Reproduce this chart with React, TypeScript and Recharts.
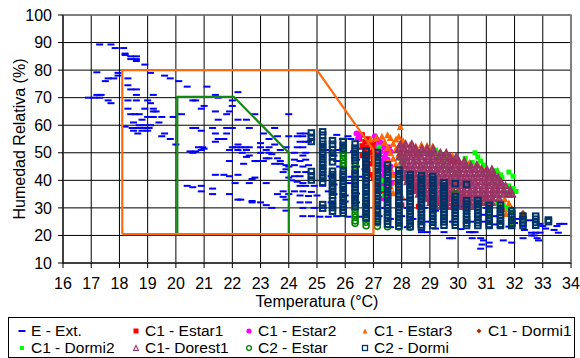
import React from 'react';
import { ScatterChart, Scatter, XAxis, YAxis, CartesianGrid, ReferenceArea, Label } from 'recharts';

const FONT = '"Liberation Sans", Arial, Helvetica, sans-serif';

const tempTicks = [16, 17, 18, 19, 20, 21, 22, 23, 24, 25, 26, 27, 28, 29, 30, 31, 32, 33, 34];
const rhTicks = [10, 20, 30, 40, 50, 60, 70, 80, 90, 100];

// comfort zone outlines [temp, rh]
const zoneWide = [[18.1, 20.5], [18.1, 80], [25, 80], [27, 51], [27, 20.5], [18.1, 20.5]];
const zoneStrict = [[20.05, 20.5], [20.05, 70.3], [22.05, 70.3], [24, 50], [24, 20.5]];

// E - Ext. (outdoor) [temp, rh]
const extPts = [
  [16.9, 70], [17.1, 70], [17.2, 71], [17.35, 71], [17.3, 70], [17.6, 69], [17.7, 68], [17.3, 89.3], [17.7, 89.3],
  [17.85, 88], [18.15, 88], [18.2, 86], [18.2, 85.5], [18.4, 85], [18.6, 85], [18.4, 84], [18.6, 84], [18.6, 83.3],
  [18.9, 82], [17.2, 79.2], [17.95, 79], [17.95, 78], [17.6, 77], [17.8, 77], [17.5, 76], [18.3, 77], [19.1, 79],
  [19.6, 78], [19.8, 77], [20.1, 76], [18.3, 74.5], [18.6, 73], [18.4, 73], [18.3, 69], [18.6, 69], [18.6, 71],
  [19.2, 71], [19.0, 69], [19.1, 68], [18.3, 66], [18.4, 64], [18.55, 64], [18.7, 64], [18.9, 66], [19.2, 66],
  [19.2, 65], [19.3, 65], [19.0, 63], [19.2, 63], [18.8, 62], [18.5, 61], [18.7, 60], [18.9, 60], [19.1, 60],
  [18.2, 59.5], [18.45, 59], [18.65, 59], [18.85, 59], [19.05, 59], [18.5, 58], [18.8, 58], [19.0, 58], [18.65, 57],
  [19.6, 57], [19.5, 56], [19.8, 55], [20.0, 53], [19.5, 63], [19.9, 63], [19.4, 61], [20.2, 64],
  [20.4, 74], [21.1, 74], [20.6, 69], [20.7, 69], [21.0, 67], [20.9, 66], [21.4, 71], [21.5, 70], [21.4, 65],
  [21.5, 62], [21.9, 65], [21.8, 64], [22.0, 67], [22.0, 69], [22.2, 72], [22.2, 62], [22.6, 59], [22.8, 64],
  [22.5, 62], [23.1, 57], [23.5, 59], [24.0, 64], [24.0, 56], [20.6, 59], [20.7, 59], [20.9, 58], [20.8, 52],
  [20.7, 50.5], [20.95, 52], [21.0, 51.5], [20.5, 50.5], [20.6, 50], [20.9, 51], [21.3, 59], [21.8, 59], [22.0, 59],
  [21.4, 57], [21.8, 57], [21.7, 55], [21.4, 54], [21.5, 55], [22.0, 52], [22.15, 52], [22.3, 52], [22.45, 52],
  [22.6, 52], [21.9, 51], [22.2, 51], [22.5, 51], [22.35, 50], [22.2, 53], [23.0, 52], [23.2, 51], [23.3, 52],
  [23.0, 50], [23.3, 50], [22.6, 49], [22.5, 48.5], [22.8, 47], [22.9, 47], [23.2, 48], [23.3, 48], [23.1, 47],
  [23.6, 48], [23.7, 47], [23.9, 45.5], [24.0, 45], [23.5, 46], [23.7, 46], [22.4, 46], [21.9, 47], [23.9, 52],
  [23.7, 51], [23.5, 53], [23.3, 55], [23.6, 56], [23.0, 53.5], [23.4, 49.5],
  [20.4, 38], [20.6, 37.5], [20.9, 38], [20.9, 36], [21.3, 37], [21.3, 35], [21.4, 42], [21.7, 42], [21.9, 41.5],
  [22.2, 42], [22.1, 39], [22.7, 40.5], [22.8, 41], [22.6, 39], [23.2, 39], [21.9, 35], [22.2, 33], [22.3, 33],
  [22.7, 32.5], [22.7, 32], [23.0, 32], [23.2, 31], [23.4, 30], [23.6, 35], [23.8, 36], [24.0, 35], [23.8, 34],
  [23.9, 33], [23.9, 29], [24.0, 41], [23.8, 43], [23.9, 44],
  [24.4, 57], [24.6, 57], [24.3, 56], [24.5, 56], [24.4, 54], [24.6, 54], [24.7, 54], [24.3, 52], [24.5, 52],
  [24.2, 50], [24.5, 49], [24.6, 50], [24.2, 47.5], [24.4, 47], [24.6, 47.5], [25.2, 52], [25.4, 51], [25.2, 48.5],
  [25.6, 49], [24.2, 45.5], [24.5, 45], [24.7, 45.5], [24.3, 43], [24.6, 43], [24.8, 42.5], [24.2, 41.5],
  [24.4, 41.5], [24.1, 40], [24.3, 39.5], [24.5, 39], [24.4, 38], [24.6, 38], [24.9, 38], [25.2, 38], [24.2, 36],
  [24.5, 36], [24.8, 35.8], [25.4, 36], [24.4, 34.5], [24.7, 34.3], [25.0, 34.5], [24.4, 32], [24.7, 32], [24.5, 30],
  [24.9, 30], [25.2, 30], [24.5, 27], [24.8, 27], [25.1, 26.8], [25.4, 26.8], [25.7, 27], [26.1, 26.8], [26.5, 26.8],
  [25.5, 32], [26.0, 32.3], [26.4, 32], [25.6, 35], [26.0, 34.5], [26.4, 35.2], [25.6, 38.5], [26.1, 39], [25.5, 41.5],
  [26.2, 41.3], [26.6, 41.3], [25.8, 45], [26.4, 45], [26.7, 44], [25.7, 47], [26.4, 47.5], [25.8, 51], [26.3, 50.5],
  [26.6, 51.5], [25.9, 55], [26.2, 55], [25.7, 56.5], [26.1, 56],
  [27.2, 27], [27.6, 26], [28.0, 27], [28.4, 26], [27.4, 30], [28.2, 30], [28.8, 30], [29.2, 29], [27.3, 33],
  [28.1, 33], [28.7, 32], [29.3, 31.5], [30.2, 30.5], [31.0, 30], [28.7, 21.2], [28.9, 21.2], [28.7, 22], [29.5, 21.2],
  [29.7, 19], [29.8, 19], [30.4, 21.2], [30.5, 21.2], [30.6, 21.2], [30.5, 19], [30.8, 19], [30.9, 18.2], [30.85, 16.7],
  [30.8, 15.2], [31.1, 17.4], [31.1, 16], [31.6, 18.2], [31.9, 17.4], [32.3, 19], [32.6, 20], [32.8, 19], [32.85, 18.2],
  [32.7, 20], [32.6, 21], [32.75, 21], [32.9, 21], [32.9, 24.2], [33.0, 23.4], [33.5, 23.4], [33.6, 24.2], [33.75, 24.2],
  [32.3, 23.4], [32.35, 22], [33.4, 22], [33.55, 21], [28.7, 25], [28.9, 25], [29.8, 25], [30.3, 25], [30.5, 25],
  [30.9, 25], [31.5, 25], [31.3, 24], [32.0, 24.5], [31.8, 23.2], [29.2, 22.5], [30.1, 22.3], [27.6, 23], [28.2, 23],
  [30.9, 27.5], [31.3, 27], [32.1, 26], [32.5, 25.5], [33.1, 22.5],
];

// C1 - Estar1
const estar1Pts = [
  [26.5, 56], [26.6, 56.5], [26.8, 55], [26.5, 55], [26.7, 54], [26.9, 53.5], [27.0, 53], [26.6, 52.5], [26.8, 52],
  [27.0, 51.5], [26.7, 51], [26.9, 50], [27.1, 50], [26.6, 49], [26.8, 48.5], [27.0, 48], [26.7, 47], [26.9, 46],
  [26.7, 45], [26.8, 43.5], [26.9, 42], [27.0, 41], [27.2, 38], [27.3, 36], [28.2, 40], [28.3, 38], [28.4, 36],
  [28.5, 37.5], [29.8, 47], [29.9, 46.5], [29.0, 32.7], [29.3, 32.5], [27.5, 34], [28.0, 31], [28.6, 30.5],
  [30.2, 34], [30.6, 31],
];

// C1 - Estar2
const estar2Pts = [
  [26.4, 57], [26.5, 56.5], [26.45, 55], [27.05, 56], [27.1, 55], [27.2, 54], [27.3, 53.5], [27.15, 52.5],
  [27.35, 52], [27.25, 50.5], [27.45, 50], [27.2, 49], [27.4, 48.5], [27.5, 47.5], [27.3, 47], [27.35, 45.5],
  [27.25, 44], [27.4, 43], [27.3, 41.5], [27.45, 40], [27.3, 38.5], [27.4, 37], [27.5, 35], [27.35, 33.5],
  [27.6, 45], [27.7, 42], [27.65, 39], [27.55, 52], [27.6, 50.5], [30.1, 33.5], [30.1, 32.5],
];

// C1 - Estar3
const estar3Pts = [
  [27.95, 59.5], [27.3, 56], [27.5, 56.5], [27.6, 55.5], [27.8, 55], [27.9, 56], [28.05, 54.5], [27.4, 54],
  [27.7, 53.5], [27.95, 53], [28.1, 52.5], [27.5, 52], [27.8, 51.5], [28.0, 51], [27.6, 50], [27.9, 49.5],
  [28.15, 49], [27.7, 48], [28.0, 47.5], [27.5, 47], [27.8, 46], [28.1, 45.5], [27.6, 44.5], [27.9, 43.5],
  [27.7, 42], [28.0, 41], [27.8, 39.5], [27.6, 38], [27.9, 37], [27.7, 35.5], [28.0, 34.5], [26.9, 55], [27.1, 55.5],
  [28.3, 53], [28.5, 52.5], [28.7, 53], [28.9, 52.7], [29.1, 52.5], [28.4, 51], [29.6, 49.7], [29.8, 49],
  [30.05, 46.7], [30.4, 46.5], [30.35, 46], [30.7, 46], [31.1, 41.5], [31.2, 42.5], [31.4, 43.6], [29.7, 40],
  [31.65, 33.3], [31.8, 31.8], [31.7, 28], [31.65, 29.8], [31.9, 29.8], [29.3, 48], [28.6, 49.5], [30.9, 44],
];

// C1 - Dormi1
const dormi1Pts = [[31.1, 31.2], [31.5, 31.2], [31.9, 29.4], [32.3, 28], [31.5, 30], [31.9, 28.2], [32.3, 26.8]];

// C1 - Dormi2
const dormi2Pts = [
  [29.2, 51], [29.35, 50], [29.5, 49], [29.3, 48.5], [29.6, 47.5], [29.5, 45], [29.7, 44], [29.9, 43], [30.0, 42.5],
  [30.6, 50], [30.7, 48.5], [30.8, 47], [30.9, 45.5], [30.25, 48], [30.5, 46.5], [30.4, 45], [30.9, 42.5], [31.1, 41.5],
  [31.2, 40], [31.3, 38.5], [31.4, 37.5], [31.35, 43.5], [31.5, 42], [31.55, 41], [31.8, 43], [31.95, 41.5], [31.8, 38],
  [31.95, 37], [32.05, 36], [31.75, 35.5], [31.6, 31], [31.75, 30], [31.85, 29], [31.9, 28.4], [31.0, 34], [31.2, 33],
  [31.4, 32], [31.0, 32.5], [27.95, 48], [28.05, 46.5], [28.0, 45], [27.2, 52], [27.35, 40], [27.35, 37], [27.4, 34.5],
  [28.8, 36], [29.0, 38],
];

// C1- Dorest1, one row per humidity reading
const dorest1Rows = [
  { rh: 53.2, t: [27.95, 28.14, 28.36] },
  { rh: 51.6, t: [27.9, 28.08, 28.31, 28.5, 28.72, 28.9, 29.12] },
  { rh: 50.1, t: [27.96, 28.17, 28.38, 28.56, 28.77, 28.98, 29.16, 29.37, 29.58] },
  { rh: 48.6, t: [27.92, 28.12, 28.33, 28.52, 28.7, 28.93, 29.11, 29.32, 29.5, 29.72, 29.93] },
  { rh: 47.1, t: [28.02, 28.21, 28.42, 28.61, 28.83, 29.02, 29.21, 29.43, 29.62, 29.81, 30.03, 30.22] },
  { rh: 45.6, t: [28.05, 28.26, 28.45, 28.66, 28.85, 29.06, 29.27, 29.46, 29.67, 29.86, 30.07, 30.26, 30.45, 30.66] },
  { rh: 44.1, t: [28.01, 28.22, 28.41, 28.62, 28.81, 29.02, 29.23, 29.42, 29.63, 29.82, 30.03, 30.22, 30.43, 30.62, 30.83, 31.02, 31.2] },
  { rh: 42.6, t: [28.06, 28.27, 28.46, 28.67, 28.86, 29.07, 29.26, 29.47, 29.66, 29.87, 30.06, 30.27, 30.46, 30.67, 30.86, 31.07, 31.26] },
  { rh: 41.1, t: [28.12, 28.31, 28.52, 28.71, 28.92, 29.11, 29.32, 29.51, 29.72, 29.91, 30.12, 30.31, 30.52, 30.71, 30.92, 31.11, 31.3, 31.42] },
  { rh: 39.6, t: [28.2, 28.41, 28.6, 28.81, 29.0, 29.21, 29.4, 29.61, 29.8, 30.01, 30.2, 30.41, 30.6, 30.81, 31.0, 31.21, 31.4, 31.52] },
  { rh: 38.1, t: [28.3, 28.51, 28.7, 28.91, 29.1, 29.31, 29.5, 29.71, 29.9, 30.11, 30.3, 30.51, 30.7, 30.91, 31.1, 31.31, 31.5, 31.68] },
  { rh: 36.6, t: [28.42, 28.61, 28.82, 29.01, 29.22, 29.41, 29.62, 29.81, 30.02, 30.21, 30.42, 30.61, 30.82, 31.01, 31.22, 31.41, 31.62, 31.85] },
  { rh: 35.1, t: [28.6, 28.81, 29.0, 29.21, 29.4, 29.61, 29.8, 30.01, 30.2, 30.41, 30.6, 30.81, 31.0, 31.21, 31.4, 31.61, 31.8, 31.92] },
  { rh: 33.6, t: [28.82, 29.01, 29.22, 29.41, 29.62, 29.81, 30.02, 30.21, 30.42, 30.61, 30.82, 31.01, 31.22, 31.45] },
  { rh: 32.1, t: [29.02, 29.21, 29.42, 29.61, 29.82, 30.01, 30.22, 30.41, 30.62, 30.81, 31.02, 31.2] },
  { rh: 30.6, t: [29.2, 29.41, 29.6, 29.81, 30.0, 30.22, 30.45] },
];

// C2 - Estar, one column per temperature reading
const c2EstarCols = [
  { t: 25.93, rh: [51.3, 50, 48.8, 47.5, 46.2, 45] },
  { t: 26.35, rh: [46.4, 45.1, 29.2, 27.9, 26.6, 25.3, 24.4] },
  { t: 26.74, rh: [31.2, 29.6, 26.1, 24.8, 23.5] },
  { t: 27.14, rh: [24.6, 23.3] },
  { t: 27.5, rh: [39.4, 37.6, 23.2] },
  { t: 27.9, rh: [23.1] },
  { t: 28.3, rh: [23.0] },
  { t: 29.5, rh: [30.5] },
  { t: 29.9, rh: [35.1] },
  { t: 31.1, rh: [28] },
  { t: 31.9, rh: [25.2, 24.1] },
];

// C2 - Dormi
const c2DormiCols = [
  { t: 24.8, rh: [57.2, 55.6, 54.1, 43.2, 41.6, 40.1] },
  { t: 25.2, rh: [57.6, 56.4, 54.2, 53.1, 51.8, 50.3, 49.2, 47.9, 46.6, 45.5, 44.2, 43.1, 41.8, 40.7, 39.3, 31.2, 29.9] },
  { t: 25.55, rh: [54.4, 53.1, 51.2, 49.9, 48.5, 46.7, 43.3, 42.1, 40.8, 39.6, 38.1, 37, 35.7, 34.5, 32.6, 31.4, 30.1, 28.8] },
  { t: 25.93, rh: [54.1, 52.7, 51.5, 43.5, 42.2, 41.1, 39.8, 38.6, 37.5, 36.2, 35.1, 33.9, 32.7, 31.5, 30.3, 29.1, 28.1] },
  { t: 26.35, rh: [53.2, 51.7, 50.5, 49.3, 48.1, 47.2, 43.9, 42.5, 41.4, 40.1, 38.9, 37.7, 36.5, 35.3, 34.2, 32.9, 31.8, 30.5] },
  { t: 26.74, rh: [50.6, 49.2, 48, 46.8, 45.7, 44.4, 43.2, 42, 40.9, 39.6, 38.5, 37.2, 36.1, 34.8, 33.7, 32.4, 31.3, 30, 28.8, 27.6, 26.4] },
  { t: 27.14, rh: [50.1, 48.7, 47.5, 46.4, 45.1, 44, 42.7, 41.5, 40.3, 39.2, 37.9, 36.8, 35.5, 34.4, 33.1, 32, 30.8, 29.5, 28.4, 27.1, 26, 25.1] },
  { t: 27.5, rh: [45.6, 44.3, 43.1, 41.9, 40.8, 39.5, 38.3, 37.2, 35.9, 34.7, 33.6, 32.3, 31.1, 30, 28.7, 27.5, 26.4, 25.2, 24.1] },
  { t: 27.9, rh: [43.7, 42.4, 41.2, 40.1, 38.8, 37.6, 36.5, 35.2, 34.1, 32.8, 31.7, 30.4, 29.3, 28.1, 26.9, 25.7, 24.5, 23.4] },
  { t: 28.3, rh: [42.1, 40.9, 39.7, 38.5, 37.3, 36.2, 34.9, 33.8, 32.5, 31.4, 30.2, 29, 27.8, 26.6, 25.5, 24.3, 23.2] },
  { t: 28.7, rh: [41.6, 40.4, 39.1, 38, 36.8, 35.6, 34.4, 33.3, 32, 30.9, 29.7, 28.5, 27.3, 26.1, 25, 23.8, 23.1] },
  { t: 29.1, rh: [41.4, 40.2, 39, 37.8, 36.7, 35.4, 34.3, 33, 31.9, 30.7, 29.5, 28.3, 27.2, 25.9, 24.8, 23.6] },
  { t: 29.5, rh: [39.1, 37.9, 36.6, 35.5, 34.3, 33.1, 32, 30.8, 29.6, 28.4, 27.3, 26.1, 24.9, 23.7] },
  { t: 29.9, rh: [38.8, 34.1, 32.9, 31.7, 30.6, 29.4, 28.2, 27.1, 25.9, 24.8, 23.7] },
  { t: 30.3, rh: [38.5, 32.6, 31.4, 30.2, 29.1, 27.9, 26.8, 25.6, 24.5, 23.6] },
  { t: 30.7, rh: [32.7, 31.5, 30.3, 29.2, 28, 26.9, 25.7, 24.6, 23.6] },
  { t: 31.1, rh: [30.9, 29.7, 28.6, 27.4, 26.3, 25.1, 24, 23.6] },
  { t: 31.5, rh: [31, 29.8, 28.7, 27.5, 26.4, 25.2, 24.1, 23.6] },
  { t: 31.9, rh: [29, 27.8, 26.7, 25.5, 24.4, 23.6] },
  { t: 32.3, rh: [27, 25.8, 24.7, 23.6] },
  { t: 32.75, rh: [27, 25.9, 24.7, 23.7] },
  { t: 33.2, rh: [25.6, 25] },
];

const fromPairs = (arr: number[][]) => arr.map(([t, rh]) => ({ t, rh }));
const fromRows = (rows: { rh: number; t: number[] }[]) => rows.flatMap((r) => r.t.map((t) => ({ t, rh: r.rh })));
const fromCols = (cols: { t: number; rh: number[] }[]) => cols.flatMap((c) => c.rh.map((rh) => ({ t: c.t, rh })));

// marker shapes
const dash = (color: string) => (p: any) => <rect x={p.cx - 3.5} y={p.cy - 1} width={7} height={2} fill={color} />;
const square = (color: string, s: number) => (p: any) => (
  <rect x={p.cx - s / 2} y={p.cy - s / 2} width={s} height={s} fill={color} />
);
const hollowSquare = (color: string, s: number, w: number) => (p: any) => (
  <rect x={p.cx - s / 2} y={p.cy - s / 2} width={s} height={s} fill="none" stroke={color} strokeWidth={w} />
);
const dot = (color: string, r: number) => (p: any) => <circle cx={p.cx} cy={p.cy} r={r} fill={color} />;
const ring = (color: string, r: number, w: number) => (p: any) => (
  <circle cx={p.cx} cy={p.cy} r={r} fill="none" stroke={color} strokeWidth={w} />
);
const triangle = (color: string, s: number) => (p: any) => (
  <path d={`M${p.cx},${p.cy - s / 2}L${p.cx + s / 2},${p.cy + s / 2}L${p.cx - s / 2},${p.cy + s / 2}Z`} fill={color} />
);
const hollowTriangle = (color: string, s: number, w: number, tint: number) => (p: any) => (
  <path
    d={`M${p.cx},${p.cy - s / 2}L${p.cx + s / 2},${p.cy + s / 2}L${p.cx - s / 2},${p.cy + s / 2}Z`}
    fill={color}
    fillOpacity={tint}
    stroke={color}
    strokeWidth={w}
  />
);
const diamond = (color: string, s: number) => (p: any) => (
  <path d={`M${p.cx},${p.cy - s / 2}L${p.cx + s / 2},${p.cy}L${p.cx},${p.cy + s / 2}L${p.cx - s / 2},${p.cy}Z`} fill={color} />
);
const noMark = () => <g />;

const series = [
  { name: 'E - Ext.', data: fromPairs(extPts), shape: dash('#0000FF'), mark: dash('#0000FF') },
  { name: 'C1 - Estar1', data: fromPairs(estar1Pts), shape: square('#FF0000', 5.5), mark: square('#FF0000', 5) },
  { name: 'C1 - Estar2', data: fromPairs(estar2Pts), shape: dot('#FF00FF', 3), mark: dot('#FF00FF', 2.6) },
  { name: 'C1 - Estar3', data: fromPairs(estar3Pts), shape: triangle('#FF6600', 7), mark: triangle('#FF6600', 5) },
  { name: 'C1 - Dormi1', data: fromPairs(dormi1Pts), shape: diamond('#993300', 7), mark: diamond('#993300', 5) },
  { name: 'C1 - Dormi2', data: fromPairs(dormi2Pts), shape: square('#00FF00', 5), mark: square('#00FF00', 4) },
  {
    name: 'C1- Dorest1',
    data: fromRows(dorest1Rows),
    shape: hollowTriangle('#993366', 6, 1.6, 0.85),
    mark: hollowTriangle('#993366', 5, 1.1, 0),
  },
  { name: 'C2 - Estar', data: fromCols(c2EstarCols), shape: ring('#008000', 3, 1.6), mark: ring('#008000', 2.4, 1.3) },
  {
    name: 'C2 - Dormi',
    data: fromCols(c2DormiCols),
    shape: hollowSquare('#003366', 5.5, 2),
    mark: hollowSquare('#003366', 5, 1.3),
  },
];

const legendColX = [21, 135, 248, 364, 478];

const ChartLegend = () => (
  <div
    style={{
      position: 'absolute',
      left: 8,
      top: 317,
      width: 567,
      height: 41,
      border: '1px solid #000',
      boxSizing: 'border-box',
      fontFamily: FONT,
      fontSize: 15.5,
      color: '#000',
    }}
  >
    {series.map((s, i) => {
      const col = i % 5;
      const row = Math.floor(i / 5);
      return (
        <div
          key={s.name}
          style={{
            position: 'absolute',
            left: legendColX[col] - 8 - 5,
            top: row === 0 ? 5 : 22,
            height: 16,
            display: 'flex',
            alignItems: 'center',
            whiteSpace: 'nowrap',
            lineHeight: '16px',
          }}
        >
          <svg width={10} height={10} style={{ marginRight: 4 }}>
            {s.mark({ cx: 5, cy: 5 })}
          </svg>
          <span>{s.name}</span>
        </div>
      );
    })}
  </div>
);

export default function App() {
  const tickStyle = { fill: '#000', fontSize: 16, fontFamily: FONT };
  return (
    <div style={{ position: 'absolute', left: 0, top: 0, width: 580, height: 358, background: '#fff' }}>
      <ScatterChart width={580} height={358} margin={{ top: 15, right: 9, bottom: 65, left: 0 }}>
        <CartesianGrid stroke="#000" strokeWidth={1} />
        <XAxis
          type="number"
          dataKey="t"
          domain={[16, 34]}
          ticks={tempTicks}
          interval={0}
          allowDataOverflow
          height={30}
          tickSize={5}
          tickMargin={10}
          stroke="#000"
          tick={tickStyle}
        >
          <Label
            content={(props: any) => {
              const vb = props.viewBox;
              return (
                <text x={vb.x + vb.width / 2} y={vb.y + 44} textAnchor="middle" fontSize={16} fontFamily={FONT} fill="#000">
                  Temperatura (°C)
                </text>
              );
            }}
          />
        </XAxis>
        <YAxis
          type="number"
          dataKey="rh"
          domain={[10, 100]}
          ticks={rhTicks}
          interval={0}
          allowDataOverflow
          width={63}
          tickSize={5}
          tickMargin={6}
          stroke="#000"
          tick={tickStyle}
        >
          <Label
            content={(props: any) => {
              const vb = props.viewBox;
              const cx = vb.x + 19;
              const cy = vb.y + vb.height / 2;
              return (
                <text
                  x={cx}
                  y={cy}
                  transform={`rotate(-90 ${cx} ${cy})`}
                  textAnchor="middle"
                  dominantBaseline="central"
                  fontSize={16}
                  fontFamily={FONT}
                  fill="#000"
                >
                  Humedad Relativa (%)
                </text>
              );
            }}
          />
        </YAxis>
        <ReferenceArea x1={16} x2={34} y1={10} y2={100} fill="none" stroke="#808080" strokeWidth={1.5} ifOverflow="visible" />
        {series.map((s) => (
          <Scatter key={s.name} name={s.name} data={s.data} shape={s.shape} isAnimationActive={false} />
        ))}
        <Scatter
          data={fromPairs(zoneStrict)}
          line={{ stroke: '#118811', strokeWidth: 2.2 }}
          lineType="joint"
          shape={noMark}
          isAnimationActive={false}
        />
        <Scatter
          data={fromPairs(zoneWide)}
          line={{ stroke: '#FF6A0F', strokeWidth: 2.2 }}
          lineType="joint"
          shape={noMark}
          isAnimationActive={false}
        />
      </ScatterChart>
      <ChartLegend />
    </div>
  );
}
